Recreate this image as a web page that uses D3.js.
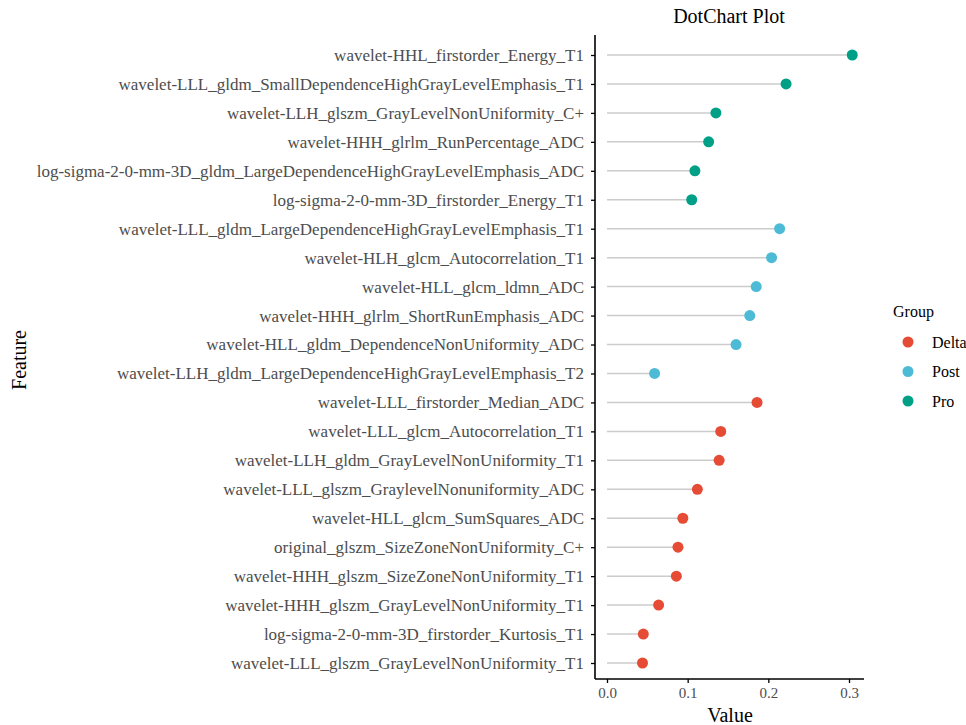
<!DOCTYPE html>
<html><head><meta charset="utf-8">
<script src="https://cdn.jsdelivr.net/npm/d3@7"></script>
<style>body{margin:0;background:#fff;} text{font-family:"Liberation Serif","Times New Roman",serif;}</style>
</head><body><svg id="c" width="966" height="725"></svg>
<script>
const features = [
"wavelet-HHL_firstorder_Energy_T1",
"wavelet-LLL_gldm_SmallDependenceHighGrayLevelEmphasis_T1",
"wavelet-LLH_glszm_GrayLevelNonUniformity_C+",
"wavelet-HHH_glrlm_RunPercentage_ADC",
"log-sigma-2-0-mm-3D_gldm_LargeDependenceHighGrayLevelEmphasis_ADC",
"log-sigma-2-0-mm-3D_firstorder_Energy_T1",
"wavelet-LLL_gldm_LargeDependenceHighGrayLevelEmphasis_T1",
"wavelet-HLH_glcm_Autocorrelation_T1",
"wavelet-HLL_glcm_ldmn_ADC",
"wavelet-HHH_glrlm_ShortRunEmphasis_ADC",
"wavelet-HLL_gldm_DependenceNonUniformity_ADC",
"wavelet-LLH_gldm_LargeDependenceHighGrayLevelEmphasis_T2",
"wavelet-LLL_firstorder_Median_ADC",
"wavelet-LLL_glcm_Autocorrelation_T1",
"wavelet-LLH_gldm_GrayLevelNonUniformity_T1",
"wavelet-LLL_glszm_GraylevelNonuniformity_ADC",
"wavelet-HLL_glcm_SumSquares_ADC",
"original_glszm_SizeZoneNonUniformity_C+",
"wavelet-HHH_glszm_SizeZoneNonUniformity_T1",
"wavelet-HHH_glszm_GrayLevelNonUniformity_T1",
"log-sigma-2-0-mm-3D_firstorder_Kurtosis_T1",
"wavelet-LLL_glszm_GrayLevelNonUniformity_T1"
];
const values = [0.304,0.222,0.135,0.126,0.109,0.105,0.214,0.204,0.185,0.177,0.160,0.059,0.186,0.141,0.139,0.112,0.094,0.088,0.086,0.064,0.045,0.044];
const groups = ["Pro","Pro","Pro","Pro","Pro","Pro","Post","Post","Post","Post","Post","Post","Delta","Delta","Delta","Delta","Delta","Delta","Delta","Delta","Delta","Delta"];
const groupNames = ["Delta","Post","Pro"];
const groupColors = ["#E64B35","#4DBBD5","#00A087"];
const xTicks = [0.0,0.1,0.2,0.3];

const svg = d3.select("#c");
const pLeft = 595, pRight = 864, pTop = 35, pBottom = 679;
const x = d3.scaleLinear().domain([0,0.3]).range([607, 849]);
const y = d3.scalePoint().domain(features).range([55, 663]);
const color = d3.scaleOrdinal().domain(groupNames).range(groupColors);

const data = features.map((f,i)=>({f, v: values[i], g: groups[i]}));

svg.selectAll("line.seg").data(data).enter().append("line")
  .attr("x1", x(0)).attr("x2", d=>x(d.v))
  .attr("y1", d=>y(d.f)).attr("y2", d=>y(d.f))
  .attr("stroke", "#cccccc").attr("stroke-width", 1.5);
svg.selectAll("circle.pt").data(data).enter().append("circle")
  .attr("cx", d=>x(d.v)).attr("cy", d=>y(d.f)).attr("r", 5.5)
  .attr("fill", d=>color(d.g));

// axes
const yAxis = svg.append("g").attr("transform", `translate(${pLeft},0)`)
  .call(d3.axisLeft(y).tickSize(4).tickPadding(7));
yAxis.select(".domain").attr("d", `M0,${pTop}V${pBottom}`).attr("stroke-width", 1.6);
yAxis.selectAll(".tick line").attr("stroke-width", 1.3);
yAxis.selectAll("text").attr("font-size", 17).attr("fill", "#4d4d4d").style("font-family", '"Liberation Serif",serif');

const xAxis = svg.append("g").attr("transform", `translate(0,${pBottom})`)
  .call(d3.axisBottom(x).tickValues(xTicks).tickFormat(d3.format(".1f")).tickSize(4).tickPadding(4));
xAxis.select(".domain").attr("d", `M${pLeft},0H${pRight}`).attr("stroke-width", 1.6);
xAxis.selectAll(".tick line").attr("stroke-width", 1.3);
xAxis.selectAll("text").attr("font-size", 15).attr("fill", "#4d4d4d").style("font-family", '"Liberation Serif",serif');

svg.append("text").attr("x", 729).attr("y", 23).attr("text-anchor","middle")
  .attr("font-size", 20).text("DotChart Plot");
svg.append("text").attr("x", 730).attr("y", 722).attr("text-anchor","middle")
  .attr("font-size", 20).text("Value");
svg.append("text").attr("transform","translate(26,360) rotate(-90)").attr("text-anchor","middle")
  .attr("font-size", 20).text("Feature");

const lg = svg.append("g");
lg.append("text").attr("x", 893).attr("y", 317).attr("font-size", 16).text("Group");
groupNames.forEach((g,i)=>{
  const cy = 342 + i*29.5;
  lg.append("circle").attr("cx", 908).attr("cy", cy).attr("r", 5.5).attr("fill", groupColors[i]);
  lg.append("text").attr("x", 932).attr("y", cy+5.5).attr("font-size", 16).text(g);
});
</script></body></html>
